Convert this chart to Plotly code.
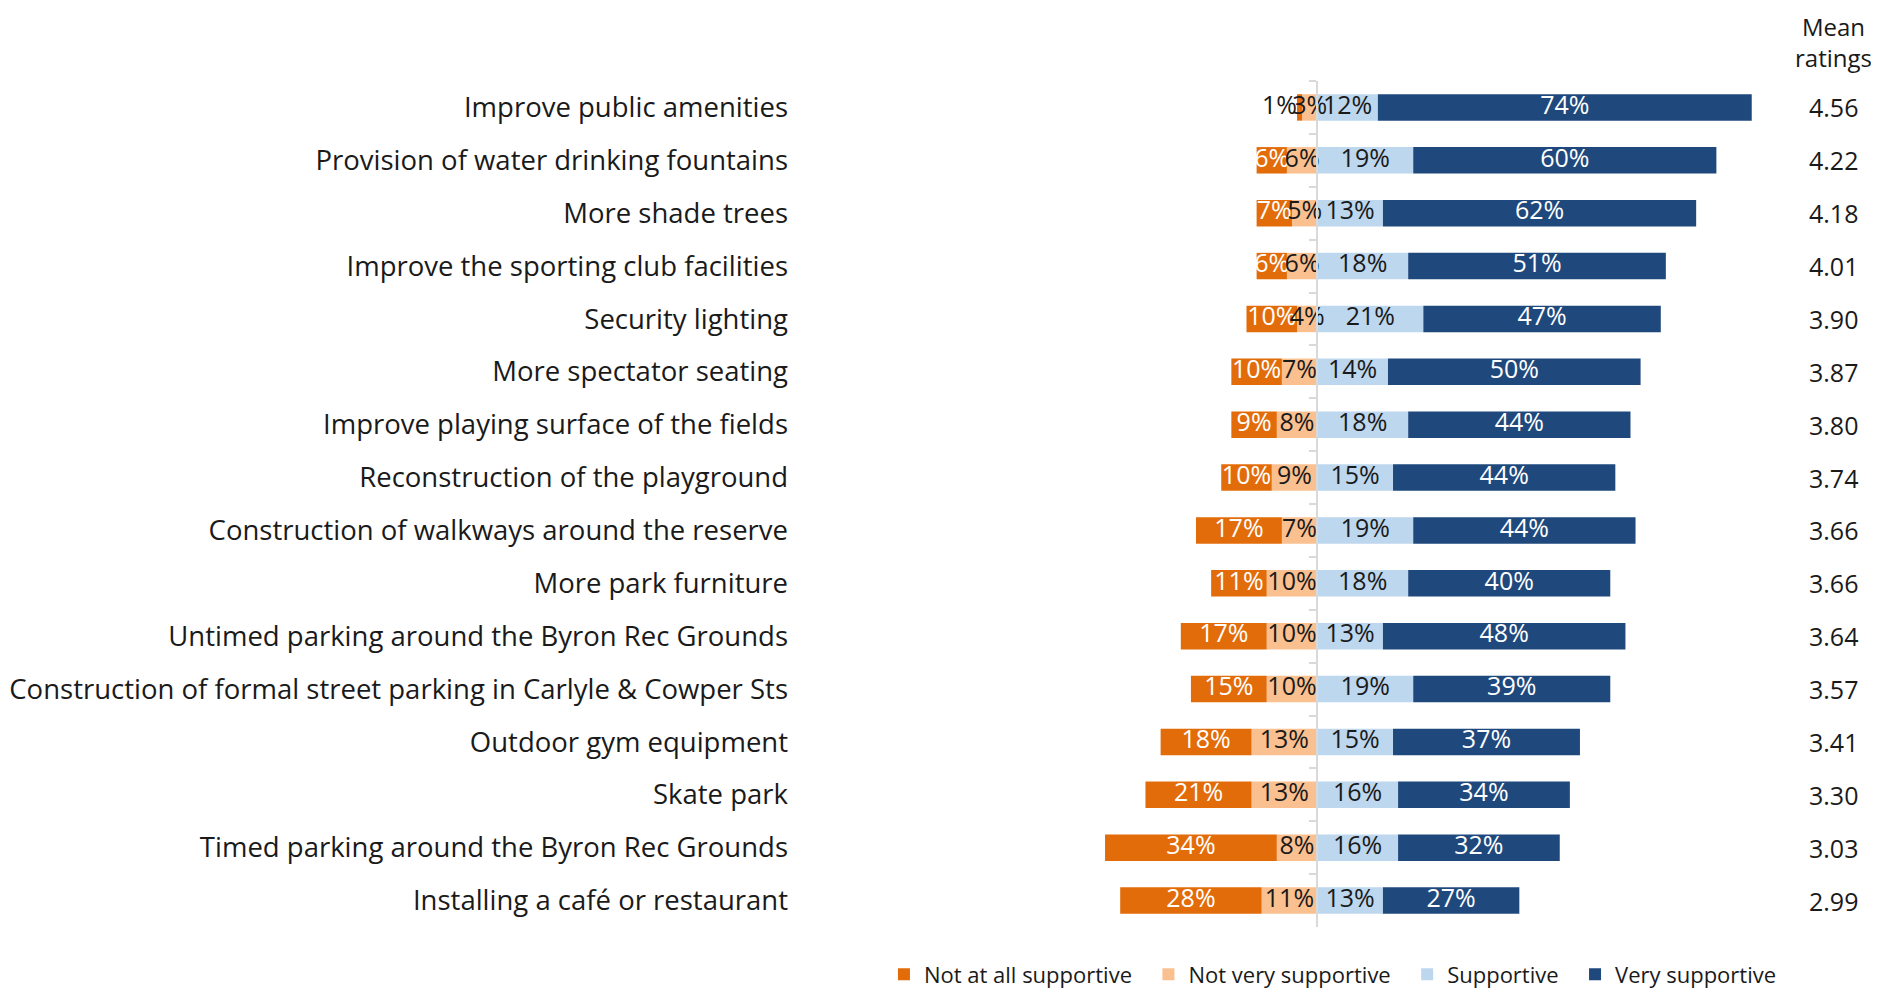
import plotly.graph_objects as go

categories = [
    "Improve public amenities",
    "Provision of water drinking fountains",
    "More shade trees",
    "Improve the sporting club facilities",
    "Security lighting",
    "More spectator seating",
    "Improve playing surface of the fields",
    "Reconstruction of the playground",
    "Construction of walkways around the reserve",
    "More park furniture",
    "Untimed parking around the Byron Rec Grounds",
    "Construction of formal street parking in Carlyle & Cowper Sts",
    "Outdoor gym equipment",
    "Skate park",
    "Timed parking around the Byron Rec Grounds",
    "Installing a café or restaurant",
]
not_at_all = [1, 6, 7, 6, 10, 10, 9, 10, 17, 11, 17, 15, 18, 21, 34, 28]
not_very = [3, 6, 5, 6, 4, 7, 8, 9, 7, 10, 10, 10, 13, 13, 8, 11]
supportive = [12, 19, 13, 18, 21, 14, 18, 15, 19, 18, 13, 19, 15, 16, 16, 13]
very = [74, 60, 62, 51, 47, 50, 44, 44, 44, 40, 48, 39, 37, 34, 32, 27]
means = [4.56, 4.22, 4.18, 4.01, 3.90, 3.87, 3.80, 3.74, 3.66, 3.66, 3.64, 3.57, 3.41, 3.30, 3.03, 2.99]

series_names = ["Not at all supportive", "Not very supportive", "Supportive", "Very supportive"]
colors = ["#E36C0A", "#FAC090", "#BDD7EE", "#1F497D"]
text_colors = ["#FFFFFF", "#1A1A1A", "#1A1A1A", "#FFFFFF"]
DARK = "#1A1A1A"

FONT = "Open Sans, Lato, sans-serif"
X_MIN, X_MAX = -100, 110
MEAN_X = 102.1
CAT_SIZE = 27.5
LABEL_SIZE = 25
LEGEND_SIZE = 22
PAD = "\u00a0\u00a0"

fig = go.Figure()

# Negative side: stack "Not very" nearest zero, then "Not at all"
fig.add_bar(y=categories, x=[-v for v in not_very], name=series_names[1] + PAD, orientation="h",
            marker=dict(color=colors[1], line=dict(width=0)), legendrank=2, hoverinfo="skip")
fig.add_bar(y=categories, x=[-v for v in not_at_all], name=series_names[0] + PAD, orientation="h",
            marker=dict(color=colors[0], line=dict(width=0)), legendrank=1, hoverinfo="skip")
fig.add_bar(y=categories, x=supportive, name=series_names[2] + PAD, orientation="h",
            marker=dict(color=colors[2], line=dict(width=0)), legendrank=3, hoverinfo="skip")
fig.add_bar(y=categories, x=very, name=series_names[3], orientation="h",
            marker=dict(color=colors[3], line=dict(width=0)), legendrank=4, hoverinfo="skip")

# Segment labels
na_x, na_pos, na_col = [], [], []
for a, b in zip(not_at_all, not_very):
    if a < 3:
        na_x.append(-(a + b))
        na_pos.append("middle left")
        na_col.append(DARK)
    else:
        na_x.append(-(b + a / 2))
        na_pos.append("middle center")
        na_col.append(text_colors[0])
label_sets = [
    (na_x, not_at_all, na_pos, na_col),
    ([-b / 2 for b in not_very], not_very, "middle center", text_colors[1]),
    ([s / 2 for s in supportive], supportive, "middle center", text_colors[2]),
    ([s + v / 2 for s, v in zip(supportive, very)], very, "middle center", text_colors[3]),
]
for xs, vals, pos, tc in label_sets:
    fig.add_scatter(y=categories, x=xs, mode="text", text=[f"{v}%" for v in vals],
                    textposition=pos, textfont=dict(family=FONT, size=LABEL_SIZE, color=tc),
                    showlegend=False, hoverinfo="skip", cliponaxis=False)

# invisible trace for the centre category axis
fig.add_scatter(y=categories, x=[0] * len(categories), yaxis="y2", mode="markers",
                marker=dict(opacity=0), showlegend=False, hoverinfo="skip")

# Mean ratings
for c, m in zip(categories, means):
    fig.add_annotation(x=MEAN_X, y=c, xref="x", yref="y", text=f"{m:.2f}", showarrow=False,
                       font=dict(family=FONT, size=LABEL_SIZE, color=DARK))
fig.add_annotation(x=MEAN_X, y=1.046, xref="x", yref="paper", text="Mean<br>ratings",
                   showarrow=False, yanchor="middle", borderpad=0,
                   font=dict(family=FONT, size=24, color=DARK))

n = len(categories)
fig.update_layout(
    width=1871, height=980,
    barmode="relative", bargap=0.5,
    plot_bgcolor="white", paper_bgcolor="white",
    margin=dict(l=804, r=6, t=73, b=61, autoexpand=False),
    font=dict(family=FONT, color=DARK),
    xaxis=dict(range=[X_MIN, X_MAX], showgrid=False, zeroline=False, showticklabels=False,
               showline=False, fixedrange=True),
    yaxis=dict(type="category", categoryarray=categories, range=[n - 0.5, -0.5],
               showgrid=False, zeroline=False, showline=False, ticks="",
               tickfont=dict(family=FONT, size=CAT_SIZE, color=DARK), ticklabelstandoff=23),
    yaxis2=dict(type="category", categoryarray=categories, range=[n - 0.5, -0.5],
                overlaying="y", anchor="free", position=(0 - X_MIN) / (X_MAX - X_MIN), side="left",
                showgrid=False, zeroline=False, showline=True, linecolor="#D9D9D9", linewidth=2,
                ticks="outside", ticklen=7, tickwidth=2, tickcolor="#D9D9D9", tickson="boundaries",
                showticklabels=False),
    legend=dict(orientation="h", x=0.491, xanchor="center", y=-0.056, yanchor="middle",
                font=dict(family=FONT, size=LEGEND_SIZE, color=DARK), itemwidth=30,
                traceorder="normal"),
    showlegend=True,
)

fig.write_html("out.html")
